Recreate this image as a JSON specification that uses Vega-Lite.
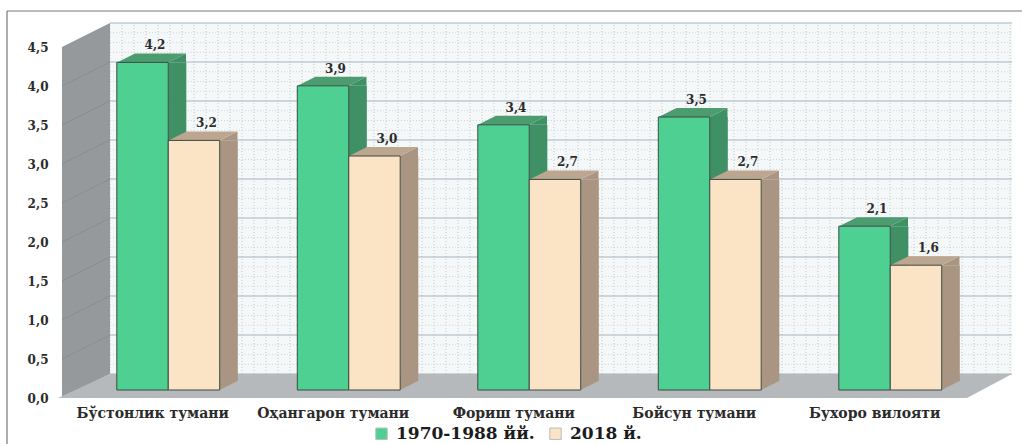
{"$schema":"https://vega.github.io/schema/vega-lite/v6.json","autosize":"none","width":1015,"height":433,"padding":{"left":7,"top":11,"right":0,"bottom":0},"background":"white","view":{"stroke":null},
"datasets":{
"bars":[{"region":"Бўстонлик тумани","period":"1970-1988 йй.","value":4.2},{"region":"Бўстонлик тумани","period":"2018 й.","value":3.2},{"region":"Оҳангарон тумани","period":"1970-1988 йй.","value":3.9},{"region":"Оҳангарон тумани","period":"2018 й.","value":3.0},{"region":"Фориш тумани","period":"1970-1988 йй.","value":3.4},{"region":"Фориш тумани","period":"2018 й.","value":2.7},{"region":"Бойсун тумани","period":"1970-1988 йй.","value":3.5},{"region":"Бойсун тумани","period":"2018 й.","value":2.7},{"region":"Бухоро вилояти","period":"1970-1988 йй.","value":2.1},{"region":"Бухоро вилояти","period":"2018 й.","value":1.6}],
"backwall":[{"a":103,"b":1005,"lo":0.205,"hi":4.705}],
"leftwall":[{"a":55,"lo":-0.1026,"hi":4.397},{"a":103,"lo":0.205,"hi":4.705}],
"floor":[{"lvl":-0.1026,"a":51,"b":960},{"lvl":0.205,"a":103,"b":1005}],
"major":[{"v":0.205},{"v":0.705},{"v":1.205},{"v":1.705},{"v":2.205},{"v":2.705},{"v":3.205},{"v":3.705},{"v":4.205},{"v":4.705}],
"minor":[{"v":0.33},{"v":0.455},{"v":0.58},{"v":0.83},{"v":0.955},{"v":1.08},{"v":1.33},{"v":1.455},{"v":1.58},{"v":1.83},{"v":1.955},{"v":2.08},{"v":2.33},{"v":2.455},{"v":2.58},{"v":2.83},{"v":2.955},{"v":3.08},{"v":3.33},{"v":3.455},{"v":3.58},{"v":3.83},{"v":3.955},{"v":4.08},{"v":4.33},{"v":4.455},{"v":4.58}],
"verticals":[{"a":103},{"a":115},{"a":127},{"a":139},{"a":151},{"a":163},{"a":175},{"a":187},{"a":199},{"a":211},{"a":223},{"a":235},{"a":247},{"a":259},{"a":271},{"a":283},{"a":295},{"a":307},{"a":319},{"a":331},{"a":343},{"a":355},{"a":367},{"a":379},{"a":391},{"a":403},{"a":415},{"a":427},{"a":439},{"a":451},{"a":463},{"a":475},{"a":487},{"a":499},{"a":511},{"a":523},{"a":535},{"a":547},{"a":559},{"a":571},{"a":583},{"a":595},{"a":607},{"a":619},{"a":631},{"a":643},{"a":655},{"a":667},{"a":679},{"a":691},{"a":703},{"a":715},{"a":727},{"a":739},{"a":751},{"a":763},{"a":775},{"a":787},{"a":799},{"a":811},{"a":823},{"a":835},{"a":847},{"a":859},{"a":871},{"a":883},{"a":895},{"a":907},{"a":919},{"a":931},{"a":943},{"a":955},{"a":967},{"a":979},{"a":991},{"a":1003}],
"slants":[{"k":"1","a":55,"v":0.3974},{"k":"1","a":103,"v":0.705},{"k":"2","a":55,"v":0.8974},{"k":"2","a":103,"v":1.205},{"k":"3","a":55,"v":1.3974},{"k":"3","a":103,"v":1.705},{"k":"4","a":55,"v":1.8974},{"k":"4","a":103,"v":2.205},{"k":"5","a":55,"v":2.3974},{"k":"5","a":103,"v":2.705},{"k":"6","a":55,"v":2.8974},{"k":"6","a":103,"v":3.205},{"k":"7","a":55,"v":3.3974},{"k":"7","a":103,"v":3.705},{"k":"8","a":55,"v":3.8974},{"k":"8","a":103,"v":4.205}],
"frameV":[{"a":0,"lo":-0.6923,"hi":4.859}],
"frameH":[{"a":0,"b":1015,"v":4.859}]
},
"layer":[
{"data":{"name":"frameV"},"mark":{"type":"rule","color":"#777","strokeWidth":1.2},"encoding":{"x":{"field":"a","type":"quantitative","scale":{"domain":[0,1015],"range":[0,1015],"nice":false,"zero":false},"axis":null},"y":{"field":"lo","type":"quantitative","scale":{"domain":[-0.6923,4.859],"nice":false,"zero":false},"axis":null},"y2":{"field":"hi"}}},
{"data":{"name":"frameH"},"mark":{"type":"rule","color":"#777","strokeWidth":1.2},"encoding":{"x":{"field":"a","type":"quantitative","scale":{"domain":[0,1015],"range":[0,1015],"nice":false,"zero":false},"axis":null},"x2":{"field":"b"},"y":{"field":"v","type":"quantitative","axis":null}}},
{"data":{"name":"backwall"},"mark":{"type":"rect","color":"#f5f8f9"},"encoding":{"x":{"field":"a","type":"quantitative","scale":{"domain":[0,1015],"range":[0,1015],"nice":false,"zero":false},"axis":null},"x2":{"field":"b"},"y":{"field":"lo","type":"quantitative","axis":null},"y2":{"field":"hi"}}},
{"data":{"name":"verticals"},"mark":{"type":"rule","color":"#c2c7cb","strokeWidth":1,"strokeDash":[1,2]},"encoding":{"x":{"field":"a","type":"quantitative","scale":{"domain":[0,1015],"range":[0,1015],"nice":false,"zero":false},"axis":null},"y":{"datum":0.205,"type":"quantitative","axis":null},"y2":{"datum":4.705}}},
{"data":{"name":"minor"},"mark":{"type":"rule","color":"#d0d5d8","strokeWidth":1,"strokeDash":[1,2]},"encoding":{"x":{"datum":103,"type":"quantitative","scale":{"domain":[0,1015],"range":[0,1015],"nice":false,"zero":false},"axis":null},"x2":{"datum":1005},"y":{"field":"v","type":"quantitative","axis":null}}},
{"data":{"name":"major"},"mark":{"type":"rule","color":"#a6b4c0","strokeWidth":1.2},"encoding":{"x":{"datum":103,"type":"quantitative","scale":{"domain":[0,1015],"range":[0,1015],"nice":false,"zero":false},"axis":null},"x2":{"datum":1005},"y":{"field":"v","type":"quantitative","axis":null}}},
{"data":{"name":"leftwall"},"mark":{"type":"area","color":"#96999c","orient":"vertical"},"encoding":{"x":{"field":"a","type":"quantitative","scale":{"domain":[0,1015],"range":[0,1015],"nice":false,"zero":false},"axis":null},"y":{"field":"lo","type":"quantitative","axis":null},"y2":{"field":"hi"}}},
{"data":{"name":"slants"},"mark":{"type":"line","color":"#858e98","strokeWidth":1},"encoding":{"detail":{"field":"k"},"x":{"field":"a","type":"quantitative","scale":{"domain":[0,1015],"range":[0,1015],"nice":false,"zero":false},"axis":null},"y":{"field":"v","type":"quantitative","axis":null}}},
{"data":{"name":"floor"},"mark":{"type":"area","color":"#b6b9bb","orient":"horizontal"},"encoding":{"y":{"field":"lvl","type":"quantitative","axis":null},"x":{"field":"a","type":"quantitative","scale":{"domain":[0,1015],"range":[0,1015],"nice":false,"zero":false},"axis":null},"x2":{"field":"b"}}},
{"data":{"name":"bars"},"mark":{"type":"bar"},"encoding":{"x":{"field":"region","type":"nominal","sort":null,"scale":{"range":[71,973.5],"paddingInner":0.43,"paddingOuter":0.215},"axis":null},"xOffset":{"field":"period","type":"nominal","sort":null,"scale":{"type":"band","range":[51.5,121],"paddingInner":0.65,"paddingOuter":0}},"y":{"field":"value","type":"quantitative","axis":null},"y2":{"datum":0.115},"color":{"field":"period","type":"nominal","sort":null,"scale":{"domain":["1970-1988 йй.","2018 й."],"range":["#3f9165","#a99581"]},"legend":null}}},
{"data":{"name":"bars"},"mark":{"type":"point","filled":true,"opacity":1,"size":4,"shape":"M25.5,0L43.5,-9L43.5,0Z"},"encoding":{"x":{"field":"region","type":"nominal","sort":null,"scale":{"range":[71,973.5],"paddingInner":0.43,"paddingOuter":0.215},"axis":null},"xOffset":{"field":"period","type":"nominal","sort":null,"scale":{"type":"band","paddingInner":0,"paddingOuter":0}},"y":{"field":"value","type":"quantitative","axis":null},"color":{"field":"period","type":"nominal","sort":null,"scale":{"domain":["1970-1988 йй.","2018 й."],"range":["#3f9165","#a99581"]},"legend":null}}},
{"data":{"name":"bars"},"mark":{"type":"point","filled":true,"opacity":1,"size":4,"shape":"M25.5,0L43.5,-9L25.5,-9Z"},"encoding":{"x":{"field":"region","type":"nominal","sort":null,"scale":{"range":[71,973.5],"paddingInner":0.43,"paddingOuter":0.215},"axis":null},"xOffset":{"field":"period","type":"nominal","sort":null,"scale":{"type":"band","paddingInner":0,"paddingOuter":0}},"y":{"datum":0,"type":"quantitative","axis":null},"color":{"field":"period","type":"nominal","sort":null,"scale":{"domain":["1970-1988 йй.","2018 й."],"range":["#3f9165","#a99581"]},"legend":null}}},
{"data":{"name":"bars"},"mark":{"type":"point","filled":true,"opacity":1,"size":4,"shape":"M-25.5,0L25.5,0L43.5,-9L-7.5,-9Z"},"encoding":{"x":{"field":"region","type":"nominal","sort":null,"scale":{"range":[71,973.5],"paddingInner":0.43,"paddingOuter":0.215},"axis":null},"xOffset":{"field":"period","type":"nominal","sort":null,"scale":{"type":"band","paddingInner":0,"paddingOuter":0}},"y":{"field":"value","type":"quantitative","axis":null},"color":{"field":"period","type":"nominal","sort":null,"scale":{"domain":["1970-1988 йй.","2018 й."],"range":["#4c9c70","#bda68f"]},"legend":null}}},
{"data":{"name":"bars"},"mark":{"type":"bar","stroke":"#3a4a42","strokeWidth":1},"encoding":{"x":{"field":"region","type":"nominal","sort":null,"title":null,"scale":{"range":[71,973.5],"paddingInner":0.43,"paddingOuter":0.215},"axis":{"title":null,"offset":-38,"domain":false,"ticks":false,"grid":false,"labelAngle":0,"labelPadding":0,"labelOffset":-15.5,"labelFont":"DejaVu Serif","labelFontWeight":"bold","labelFontSize":14,"labelColor":"#2b2b2b"}},"xOffset":{"field":"period","type":"nominal","sort":null,"scale":{"type":"band","paddingInner":0,"paddingOuter":0}},"y":{"field":"value","type":"quantitative","title":null,"axis":{"title":null,"values":[0,0.5,1,1.5,2,2.5,3,3.5,4,4.5],"format":".1f","offset":-41,"domain":false,"ticks":false,"grid":false,"labelPadding":0,"labelOffset":8,"labelFont":"DejaVu Serif","labelFontWeight":"bold","labelFontSize":12,"labelColor":"#2b2b2b"}},"y2":{"datum":0},"color":{"field":"period","type":"nominal","sort":null,"title":null,"scale":{"domain":["1970-1988 йй.","2018 й."],"range":["#4fd093","#fbe3c6"]},"legend":{"title":null,"orient":"none","direction":"horizontal","legendX":366,"legendY":414,"symbolType":"square","symbolSize":130,"symbolStrokeColor":"#b9bdb8","symbolStrokeWidth":1,"labelFont":"DejaVu Serif","labelFontWeight":"bold","labelFontSize":17,"labelColor":"#1c1c1c","labelOffset":6,"columnPadding":12,"labelLimit":300}}}},
{"data":{"name":"bars"},"mark":{"type":"text","dx":12.5,"dy":-17,"font":"DejaVu Serif","fontWeight":"bold","fontSize":12,"color":"#2b2b2b"},"encoding":{"x":{"field":"region","type":"nominal","sort":null,"scale":{"range":[71,973.5],"paddingInner":0.43,"paddingOuter":0.215},"axis":null},"xOffset":{"field":"period","type":"nominal","sort":null,"scale":{"type":"band","paddingInner":0,"paddingOuter":0}},"y":{"field":"value","type":"quantitative","axis":null},"text":{"field":"value","type":"quantitative","format":".1f","formatType":"number"}}}
],
"resolve":{"scale":{"x":"independent","xOffset":"independent","color":"independent"},"axis":{"x":"independent","y":"independent"},"legend":{"color":"independent"}},
"config":{"locale":{"number":{"decimal":",","thousands":" ","grouping":[3],"currency":["",""]}}}
}
